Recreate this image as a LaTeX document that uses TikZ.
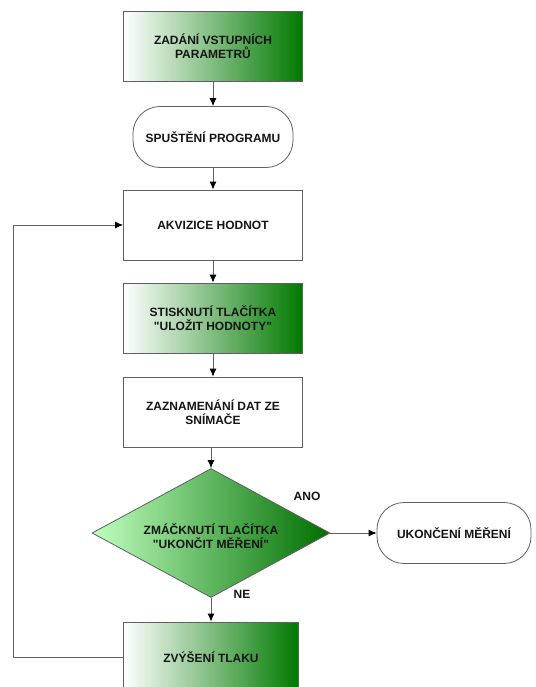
\documentclass[tikz,border=0pt]{standalone}
\usepackage{fontspec}
\setmainfont{Liberation Sans}[Ligatures=TeXOff]
\usetikzlibrary{shapes.geometric,arrows.meta}
\definecolor{txt}{HTML}{151515}
\definecolor{ln}{HTML}{606060}
\definecolor{dkgreen}{HTML}{007A00}
\tikzset{
  base/.style={draw=ln, line width=0.8pt, align=center, text=txt,
    font=\bfseries\fontsize{12}{14}\selectfont, inner sep=2pt},
  plainbox/.style={base, rectangle, minimum width=179pt, minimum height=70pt, fill=white},
  greenbox/.style={base, rectangle, minimum width=179pt, minimum height=70pt,
    left color=white, right color=dkgreen},
  term/.style={base, rectangle, rounded corners=27pt, minimum height=61pt, fill=white},
  decision/.style={base, diamond, aspect=1.845, minimum width=238pt, minimum height=129pt,
    inner sep=0pt, left color=green!25!white, right color=dkgreen!90!black},
  conn/.style={draw=ln, line width=0.8pt, -{Latex[length=8pt,width=7pt,fill=black,color=black]}},
  lbl/.style={text=txt, font=\bfseries\fontsize{12}{14}\selectfont}
}
\begin{document}
\begin{tikzpicture}[x=1pt,y=-1pt]
\useasboundingbox (0,0) rectangle (535,687);
\clip (0,0) rectangle (535,687);
\fill[white] (0,0) rectangle (535,687);
\node[greenbox] (b1) at (213,46.5) {ZADÁNÍ VSTUPNÍCH\\PARAMETRŮ};
\node[term, minimum width=160pt] (b2) at (213,137) {SPUŠTĚNÍ PROGRAMU};
\node[plainbox] (b3) at (213,225) {AKVIZICE HODNOT};
\node[greenbox] (b4) at (213,318) {STISKNUTÍ TLAČÍTKA\\"ULOŽIT HODNOTY"};
\node[plainbox] (b5) at (213,412) {ZAZNAMENÁNÍ DAT ZE\\SNÍMAČE};
\node[decision] (d) at (211,533) {};
\node[text=txt, font=\bfseries\fontsize{12}{14}\selectfont, align=center] (dt) at (211,536) {ZMÁČKNUTÍ TLAČÍTKA\\"UKONČIT MĚŘENÍ"};
\node[term, minimum width=154pt] (e) at (454,533) {UKONČENÍ MĚŘENÍ};
\node[greenbox, minimum width=175pt] (b7) at (211,657) {ZVÝŠENÍ TLAKU};
\node[lbl] (ano) at (307,496) {ANO};
\node[lbl] (ne) at (242,594) {NE};
\draw[conn] (b1) -- (b2);
\draw[conn] (b2) -- (b3);
\draw[conn] (b3) -- (b4);
\draw[conn] (b4) -- (b5);
\draw[conn] (b5.south -| d.north) -- (d.north);
\draw[conn] (d.east) -- (e.west);
\draw[conn] (d.south) -- (b7.north -| d.south);
\coordinate (lp) at (13,657);
\draw[conn] (b7.west) -- (lp) |- (b3.west);
\end{tikzpicture}
\end{document}
